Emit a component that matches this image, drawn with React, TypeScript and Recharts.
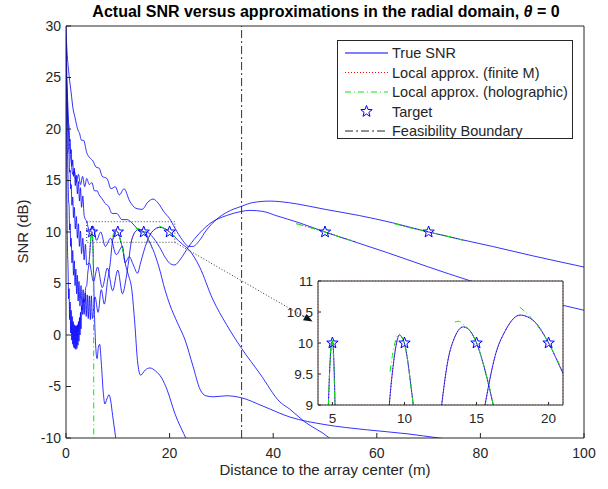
import React from "react";
import {
  ComposedChart,
  Line,
  Scatter,
  XAxis,
  YAxis,
  ReferenceLine,
  ReferenceArea,
  CartesianGrid,
} from "recharts";

const FONT = "'Liberation Sans', Arial, Helvetica, sans-serif";
const AX = "#262626";
const BLUE = "#0000ff";

// ---------------- data ----------------
const targetR = [5, 10, 15, 20, 50, 70];
const targetSnr = [10, 10, 10, 10, 10, 10];
const feasibilityR = 33.9;

// true SNR, target at 5 m
const r5 = [0, 0.05, 0.1, 0.15, 0.2, 0.3, 0.4, 0.5, 0.6, 0.7, 0.8, 0.9, 1.0, 1.1, 1.2, 1.3, 1.4, 1.5, 1.6, 1.7, 1.8, 1.9, 2.0, 2.1, 2.2, 2.3, 2.4, 2.5, 2.6, 2.7, 2.8, 2.9, 3.0, 3.2, 3.4, 3.6, 3.8, 4.0, 4.2, 4.4, 4.6, 4.72, 4.85, 4.95, 5.02, 5.1, 5.18, 5.3, 5.5, 5.8, 6.0, 6.25, 6.5, 6.8, 7.2, 7.5, 7.9, 8.3, 8.6, 9.0, 9.6, 10.0];
const snr5 = [30, 24, 19, 15, 12, 8, 6.5, 3.5, 4.5, 1.5, 3.2, 0.2, 2.4, -0.5, 1.8, -0.9, 1.3, -1.2, 1.0, -1.3, 0.9, -1.4, 0.9, -1.3, 1.0, -1.0, 1.3, -0.6, 1.7, 0.0, 2.2, 0.6, 2.8, 2.0, 3.5, 3.2, 4.6, 4.8, 6.0, 6.8, 8.0, 9.0, 9.75, 10.02, 10.03, 9.7, 9.0, 6.5, 2.0, -1.6, -2.3, -1.2, -0.9, -2.6, -5.6, -6.7, -6.2, -5.8, -6.3, -7.8, -10.0, -11.5];

// true SNR, target at 10 m
const r10 = [0, 0.1, 0.2, 0.3, 0.4, 0.5, 0.6, 0.7, 0.8, 0.9, 1.0, 1.15, 1.3, 1.45, 1.6, 1.75, 1.9, 2.05, 2.2, 2.35, 2.5, 2.7, 2.9, 3.1, 3.3, 3.5, 3.7, 3.9, 4.1, 4.3, 4.5, 4.7, 4.9, 5.1, 5.6, 6.2, 6.8, 7.4, 8.0, 8.5, 8.95, 9.2, 9.45, 9.64, 9.8, 10.0, 10.2, 10.4, 10.61, 11.0, 11.5, 12.0, 12.7, 13.3, 13.8, 14.4, 15.3, 16.2, 17.3, 18.5, 19.5, 21.0, 23.3, 24.0];
const snr10 = [28, 24, 20.5, 17.5, 15, 13, 12.5, 10.2, 10.8, 8.6, 9.4, 7.0, 8.2, 5.8, 7.2, 4.8, 6.4, 4.0, 5.8, 3.3, 5.2, 2.8, 4.8, 2.4, 4.4, 2.0, 4.1, 1.8, 3.9, 1.6, 3.8, 1.5, 3.8, 1.6, 3.7, 2.2, 4.4, 3.0, 5.2, 6.8, 9.0, 9.6, 10.0, 10.13, 10.1, 9.99, 9.75, 9.4, 9.0, 8.2, 6.8, 5.9, 4.4, 1.0, -2.5, -3.9, -3.4, -3.2, -3.5, -4.2, -5.3, -7.6, -10.2, -11];

// true SNR, target at 15 m
const r15 = [0, 0.1, 0.2, 0.3, 0.4, 0.5, 0.6, 0.7, 0.8, 0.9, 1.0, 1.15, 1.3, 1.45, 1.6, 1.8, 2.0, 2.2, 2.4, 2.6, 2.8, 3.0, 3.25, 3.5, 3.75, 4.0, 4.5, 5.3, 6.1, 7.0, 8.0, 9.0, 10.0, 10.9, 11.6, 12.1, 12.58, 13.0, 13.5, 14.08, 14.6, 15.0, 15.6, 16.16, 16.8, 18.0, 19.1, 20.0, 21.5, 23.0, 24.5, 25.9, 27.0, 28.4, 31.0, 33.9, 38.0, 43.2, 50.0, 58.0, 66.0, 72.0, 80.0];
const snr15 = [27, 25, 23, 21, 19.5, 18.0, 17.5, 15.8, 16.0, 14.2, 14.6, 12.6, 13.4, 11.4, 12.4, 10.3, 11.5, 9.4, 10.8, 8.6, 10.1, 7.9, 9.4, 7.3, 8.8, 6.8, 7.0, 5.2, 6.6, 4.6, 6.5, 4.3, 6.3, 4.0, 5.5, 7.2, 9.0, 9.7, 10.1, 10.26, 10.18, 10.0, 9.55, 9.0, 8.3, 6.5, 4.4, 3.0, 1.2, -0.5, -3.0, -5.3, -5.9, -6.0, -5.9, -6.1, -6.9, -7.96, -8.7, -9.2, -9.6, -10.0, -10.5];

// true SNR, target at 20 m
const r20 = [0, 0.1, 0.2, 0.3, 0.4, 0.5, 0.6, 0.7, 0.8, 0.9, 1.0, 1.15, 1.3, 1.45, 1.6, 1.8, 2.0, 2.2, 2.4, 2.6, 2.8, 3.0, 3.25, 3.5, 4.0, 4.6, 5.2, 5.9, 6.7, 7.6, 8.6, 9.7, 10.9, 11.4, 12.2, 13.0, 13.8, 14.4, 15.0, 15.59, 16.3, 17.0, 18.02, 19.0, 20.0, 21.0, 22.5, 23.7, 25.8, 28.3, 31.0, 33.9, 37.5, 41.3, 43.2, 46.0, 50.6, 53.0];
const snr20 = [29, 26.5, 24.5, 23, 21.8, 20.6, 20.2, 18.8, 19.0, 17.6, 18.0, 16.4, 17.0, 15.4, 16.2, 14.5, 15.5, 13.7, 14.9, 13.0, 14.3, 12.4, 13.5, 11.6, 11.0, 10.0, 10.6, 9.2, 10.0, 8.6, 9.4, 7.8, 8.6, 7.0, 7.6, 6.8, 6.0, 7.0, 8.1, 9.0, 9.8, 10.2, 10.45, 10.35, 10.0, 9.51, 8.8, 8.3, 6.6, 3.5, 1.0, -1.3, -3.8, -6.5, -7.2, -8.4, -9.9, -11];

// true SNR, target at 50 m
const r50 = [0, 0.1, 0.2, 0.4, 0.6, 0.8, 1.0, 1.3, 1.6, 2.0, 2.4, 2.8, 3.2, 3.6, 4.0, 4.5, 5.0, 5.5, 6.0, 6.4, 7.0, 7.5, 8.2, 8.9, 9.8, 10.8, 11.8, 12.7, 13.8, 14.7, 15.5, 16.2, 17.2, 18.1, 19.2, 20.2, 21.0, 22.0, 23.7, 25.8, 28.0, 31.0, 33.9, 35.5, 38.0, 40.5, 45.0, 50.0, 56.0, 62.0, 70.0, 77.8, 85.0, 90.0, 95.8, 100];
const snr50 = [28, 25, 23, 20.5, 19, 17.6, 16.8, 15.6, 15.9, 14.8, 15.6, 14.6, 15.4, 14.4, 15.2, 14.6, 14.8, 14.0, 14.0, 13.6, 13.2, 12.8, 12.5, 11.8, 11.8, 11.2, 11.2, 10.9, 10.3, 10.0, 10.0, 9.8, 9.2, 8.5, 7.5, 6.9, 6.8, 7.3, 8.6, 9.9, 10.9, 11.6, 12.0, 12.1, 12.0, 11.6, 10.9, 10.0, 9.0, 8.0, 6.6, 5.3, 4.2, 3.6, 2.9, 2.4];

// true SNR, target at 70 m
const r70 = [0, 0.1, 0.2, 0.4, 0.6, 0.8, 1.0, 1.35, 1.7, 2.0, 2.3, 2.6, 3.0, 3.4, 4.0, 4.6, 5.2, 5.8, 6.4, 7.0, 7.9, 8.7, 9.5, 10.3, 11.2, 12.3, 13.5, 14.7, 15.8, 16.8, 17.8, 19.0, 20.0, 21.0, 22.5, 23.7, 24.5, 25.8, 27, 29, 31, 33.9, 36, 39.3, 43, 47, 50, 56.6, 63, 70, 76, 82.3, 90, 100];
const snr70 = [30, 28.5, 27.5, 26.2, 25.2, 24.3, 23.5, 22.0, 21.2, 20.5, 19.9, 19.6, 18.9, 18.9, 17.7, 17.2, 16.9, 16.3, 16.2, 15.4, 15.2, 14.2, 14.4, 13.6, 14.2, 13.0, 12.3, 12.2, 12.9, 13.2, 12.8, 11.9, 11.3, 10.4, 9.2, 8.6, 8.6, 9.2, 10.1, 11.2, 11.9, 12.5, 12.85, 13.0, 12.85, 12.5, 12.2, 11.6, 10.9, 10.0, 9.3, 8.6, 7.7, 6.6];

// start of each near-target curve inside the zoomed inset
const insetStart = [4.5, 8.5, 12.2, 15.3];

// local approximation, finite M
const fm5r = [4.6, 4.72, 4.85, 4.95, 5.02, 5.1, 5.18, 5.3];
const fm5s = [8.0, 9.0, 9.75, 10.02, 10.03, 9.7, 9.0, 7.5];
const fm10r = [8.95, 9.2, 9.45, 9.64, 9.8, 10.0, 10.2, 10.4, 10.61, 11.0];
const fm10s = [9.0, 9.6, 10.0, 10.13, 10.1, 9.99, 9.75, 9.4, 9.0, 8.2];
const fm15r = [12.58, 13.0, 13.5, 14.08, 14.6, 15.0, 15.6, 16.16, 16.6];
const fm15s = [9.0, 9.7, 10.1, 10.26, 10.18, 10.0, 9.55, 9.0, 8.5];
const fm20r = [15.59, 16.3, 17.0, 18.02, 19.0, 20.0, 21.0];
const fm20s = [9.0, 9.8, 10.2, 10.45, 10.35, 10.0, 9.51];
const fm50r = [44.5, 47, 50, 53, 56];
const fm50s = [10.8, 10.45, 10.0, 9.5, 9.05];
const fm70r = [63.5, 66.5, 70, 73.5, 77];
const fm70s = [10.8, 10.4, 10.0, 9.6, 9.15];

// local approximation, holographic
const h5r = [4.72, 4.85, 4.97, 5.1, 5.16, 5.25, 5.32, 5.35, 5.36];
const h5s = [9.0, 9.75, 10.05, 9.6, 9.0, 6.5, 2.0, -4, -12];
const h10r = [9.0, 9.2, 9.4, 9.62, 9.8, 10.0, 10.2, 10.4, 10.61, 11.0, 11.3];
const h10s = [9.54, 9.85, 10.05, 10.14, 10.1, 9.99, 9.75, 9.4, 9.0, 8.2, 7.3];
const h15r = [13.5, 13.75, 14.08, 14.6, 15.0, 15.6, 16.16, 16.6];
const h15s = [10.34, 10.35, 10.3, 10.18, 10.0, 9.55, 9.0, 8.4];
const h20r = [18.0, 19.0, 20.0, 21.0];
const h20s = [10.58, 10.35, 10.0, 9.53];
const h50r = [44.5, 47, 50, 53, 56];
const h50s = [10.8, 10.45, 10.0, 9.5, 9.05];
const h70r = [63.5, 66.5, 70, 73.5, 77];
const h70s = [10.8, 10.4, 10.0, 9.6, 9.15];

const xTicks = [0, 20, 40, 60, 80, 100];
const yTicks = [-10, -5, 0, 5, 10, 15, 20, 25, 30];
const insetXTicks = [5, 10, 15, 20];
const insetYTicks = [9, 9.5, 10, 10.5, 11];
const insetXRange = [4, 21];
const insetYRange = [9, 11];
const arrowTip = { x: 47.6, y: 1.3 };

const legendItems = [
  "True SNR",
  "Local approx. (finite M)",
  "Local approx. (holographic)",
  "Target",
  "Feasibility Boundary",
];

// ---------------- helpers ----------------
const pts = (xs: number[], ys: number[]) => xs.map((x, i) => ({ x, y: ys[i] }));

const trueCurves = [pts(r5, snr5), pts(r10, snr10), pts(r15, snr15), pts(r20, snr20), pts(r50, snr50), pts(r70, snr70)];
const insetCurves = insetStart.map((s, i) => trueCurves[i].filter((p) => p.x >= s));
const finiteCurves = [pts(fm5r, fm5s), pts(fm10r, fm10s), pts(fm15r, fm15s), pts(fm20r, fm20s), pts(fm50r, fm50s), pts(fm70r, fm70s)];
const holoCurves = [pts(h5r, h5s), pts(h10r, h10s), pts(h15r, h15s), pts(h20r, h20s), pts(h50r, h50s), pts(h70r, h70s)];
const stars = pts(targetR, targetSnr);

function Pentagram(props: any) {
  const { cx, cy, r = 6 } = props;
  const p: string[] = [];
  for (let i = 0; i < 10; i++) {
    const rr = i % 2 ? r * 0.42 : r;
    const a = -Math.PI / 2 + (i * Math.PI) / 5;
    p.push(`${cx + rr * Math.cos(a)},${cy + rr * Math.sin(a)}`);
  }
  return <polygon points={p.join(" ")} fill="none" stroke={BLUE} strokeWidth={1} />;
}

const makeTicks = (len: number, size: number, gap: number) => ({
  bottom: (p: any) => (
    <g>
      <line x1={p.x} x2={p.x} y1={p.y} y2={p.y - len} stroke={AX} />
      <text x={p.x} y={p.y + gap} textAnchor="middle" fontSize={size} fill={AX} fontFamily={FONT}>
        {p.payload.value}
      </text>
    </g>
  ),
  left: (p: any) => (
    <g>
      <line x1={p.x} x2={p.x + len} y1={p.y} y2={p.y} stroke={AX} />
      <text x={p.x - 5} y={p.y + size * 0.35} textAnchor="end" fontSize={size} fill={AX} fontFamily={FONT}>
        {p.payload.value}
      </text>
    </g>
  ),
  top: (p: any) => <line x1={p.x} x2={p.x} y1={p.y} y2={p.y + len} stroke={AX} />,
  right: (p: any) => <line x1={p.x} x2={p.x - len} y1={p.y} y2={p.y} stroke={AX} />,
});

const mainTicks = makeTicks(5, 14, 20);
const insetTicks = makeTicks(3, 13.5, 18);

function Connector(props: any) {
  const { x1, y1, x2, y2 } = props;
  if ([x1, y1, x2, y2].some((v) => v === undefined || Number.isNaN(v))) return null;
  const ang = Math.atan2(y2 - y1, x2 - x1);
  const L = 9;
  const W = 3.5;
  const bx = x2 - L * Math.cos(ang);
  const by = y2 - L * Math.sin(ang);
  const head = `${x2},${y2} ${bx - W * Math.sin(ang)},${by + W * Math.cos(ang)} ${bx + W * Math.sin(ang)},${by - W * Math.cos(ang)}`;
  return (
    <g>
      <line x1={x1} y1={y1} x2={bx} y2={by} stroke="#333" strokeDasharray="1 2" />
      <polygon points={head} fill="#111" />
    </g>
  );
}

function series(keyBase: string, curves: { x: number; y: number }[][]) {
  const out: React.ReactNode[] = [];
  finiteCurves.forEach((d, i) =>
    out.push(
      <Line key={`${keyBase}f${i}`} data={d} dataKey="y" type="monotone" stroke="#ff0000" strokeWidth={1} strokeDasharray="1 2" dot={false} isAnimationActive={false} />
    )
  );
  curves.forEach((d, i) =>
    out.push(
      <Line key={`${keyBase}t${i}`} data={d} dataKey="y" type="monotone" stroke={BLUE} strokeWidth={1} strokeOpacity={0.8} dot={false} isAnimationActive={false} />
    )
  );
  holoCurves.forEach((d, i) =>
    out.push(
      <Line key={`${keyBase}h${i}`} data={d} dataKey="y" type="monotone" stroke="#00ee00" strokeWidth={1} strokeDasharray="6 3 1 3" dot={false} isAnimationActive={false} />
    )
  );
  out.push(<Scatter key={`${keyBase}s`} data={stars} dataKey="y" shape={<Pentagram />} isAnimationActive={false} />);
  return out;
}

function LegendBox() {
  return (
    <svg width={236} height={99} style={{ position: "absolute", left: 337, top: 40 }}>
      <rect x={0.5} y={0.5} width={235} height={98} fill="#fff" stroke={AX} />
      {legendItems.map((t, i) => {
        const y = 13 + i * 19.5;
        return (
          <g key={t}>
            {i === 0 && <line x1={8} x2={51} y1={y} y2={y} stroke={BLUE} />}
            {i === 1 && <line x1={8} x2={51} y1={y} y2={y} stroke="#ff0000" strokeDasharray="1 2" />}
            {i === 2 && <line x1={8} x2={51} y1={y} y2={y} stroke="#00ee00" strokeDasharray="6 3 1 3" />}
            {i === 3 && <Pentagram cx={29.5} cy={y} />}
            {i === 4 && <line x1={8} x2={51} y1={y} y2={y} stroke="#222" strokeDasharray="8 3 2 3" />}
            <text x={55} y={y + 5} fontSize={14.5} fill={AX} fontFamily={FONT}>
              {t}
            </text>
          </g>
        );
      })}
    </svg>
  );
}

export default function App() {
  return (
    <div style={{ position: "absolute", left: 0, top: 0, width: 608, height: 489, background: "#fff", fontFamily: FONT }}>
      <ComposedChart width={608} height={489} margin={{ top: 25, right: 23, bottom: 21, left: 0 }}>
        <XAxis xAxisId={0} dataKey="x" type="number" domain={[0, 100]} ticks={xTicks} allowDataOverflow height={30} tickSize={0} tickMargin={0} tickLine={false} tick={mainTicks.bottom} stroke={AX} interval={0} />
        <XAxis xAxisId="top" orientation="top" dataKey="x" type="number" domain={[0, 100]} ticks={xTicks} height={1} tickSize={0} tickMargin={0} tickLine={false} tick={mainTicks.top} stroke={AX} interval={0} />
        <YAxis yAxisId={0} type="number" domain={[-10, 30]} ticks={yTicks} allowDataOverflow width={66} tickSize={0} tickMargin={0} tickLine={false} tick={mainTicks.left} stroke={AX} interval={0} />
        <YAxis yAxisId="right" orientation="right" type="number" domain={[-10, 30]} ticks={yTicks} width={1} tickSize={0} tickMargin={0} tickLine={false} tick={mainTicks.right} stroke={AX} interval={0} />
        {series("m", trueCurves)}
        <ReferenceLine x={feasibilityR} stroke="#333" strokeDasharray="8 3 2 3" />
        <ReferenceArea x1={insetXRange[0]} x2={insetXRange[1]} y1={insetYRange[0]} y2={insetYRange[1]} fill="none" stroke="#444" strokeDasharray="1 2" />
        <ReferenceLine
          segment={[
            { x: insetXRange[1], y: insetYRange[0] },
            { x: arrowTip.x, y: arrowTip.y },
          ]}
          shape={<Connector />}
        />
      </ComposedChart>

      <div style={{ position: "absolute", left: 278, top: 271 }}>
        <ComposedChart width={292} height={160} margin={{ top: 9, right: 6, bottom: 1, left: 0 }}>
          <CartesianGrid horizontal={false} vertical={false} fill="#fff" fillOpacity={1} />
          <XAxis xAxisId={0} dataKey="x" type="number" domain={insetXRange} ticks={insetXTicks} allowDataOverflow height={25} tickSize={0} tickMargin={0} tickLine={false} tick={insetTicks.bottom} stroke={AX} interval={0} />
          <XAxis xAxisId="top" orientation="top" dataKey="x" type="number" domain={insetXRange} ticks={insetXTicks} height={1} tickSize={0} tickMargin={0} tickLine={false} tick={insetTicks.top} stroke={AX} interval={0} />
          <YAxis yAxisId={0} type="number" domain={insetYRange} ticks={insetYTicks} allowDataOverflow width={40} tickSize={0} tickMargin={0} tickLine={false} tick={insetTicks.left} stroke={AX} interval={0} />
          <YAxis yAxisId="right" orientation="right" type="number" domain={insetYRange} ticks={insetYTicks} width={1} tickSize={0} tickMargin={0} tickLine={false} tick={insetTicks.right} stroke={AX} interval={0} />
          {series("i", insetCurves)}
          <ReferenceArea x1={insetXRange[0]} x2={insetXRange[1]} y1={insetYRange[0]} y2={insetYRange[1]} fill="none" stroke="#e04030" strokeOpacity={0.6} strokeDasharray="1 2" />
        </ComposedChart>
      </div>

      <LegendBox />

      <div style={{ position: "absolute", left: 0, width: 652, top: 3, textAlign: "center", fontSize: 16, fontWeight: "bold", color: "#000" }}>
        Actual SNR versus approximations in the radial domain, <i>θ</i> = 0
      </div>
      <div style={{ position: "absolute", left: 66, width: 518, top: 461, textAlign: "center", fontSize: 15, color: AX }}>
        Distance to the array center (m)
      </div>
      <div style={{ position: "absolute", left: -28, top: 223, width: 100, textAlign: "center", fontSize: 15, color: AX, transform: "rotate(-90deg)" }}>
        SNR (dB)
      </div>
    </div>
  );
}
